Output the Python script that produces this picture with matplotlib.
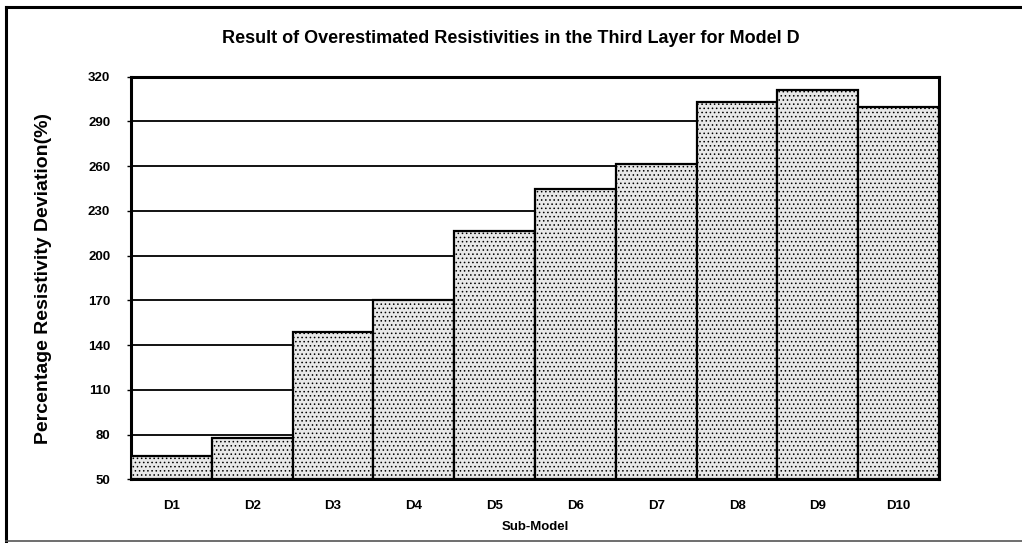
import matplotlib
matplotlib.use("Agg")
import matplotlib.pyplot as plt
from matplotlib.lines import Line2D

# values
sub_models = ["D1", "D2", "D3", "D4", "D5", "D6", "D7", "D8", "D9", "D10"]
deviation = [66, 78, 149, 170, 216.5, 244.5, 261.5, 303, 311, 300]
y_ticks = [50, 80, 110, 140, 170, 200, 230, 260, 290, 320]

plt.rcParams["font.family"] = ["Liberation Sans", "DejaVu Sans"]
plt.rcParams["font.weight"] = "bold"
plt.rcParams["hatch.color"] = "#333333"
plt.rcParams["hatch.linewidth"] = 0.6

fig = plt.figure(figsize=(10.22, 5.43), dpi=100)
ax = fig.add_axes([0.1282, 0.117, 0.7906, 0.7418])

x = range(len(sub_models))
ax.bar(x, [d - 50 for d in deviation], bottom=50, width=1.0,
       color="#e8e8e8", edgecolor="black", linewidth=1.6, hatch="....",
       zorder=3)

ax.set_xlim(-0.5, len(sub_models) - 0.5)
ax.set_ylim(50, 320)
ax.set_yticks(y_ticks)
ax.set_xticks(list(x))
ax.set_xticklabels(sub_models)
ax.yaxis.grid(True, color="black", linewidth=1.3, zorder=0)
ax.set_axisbelow(True)

ax.tick_params(axis="x", length=0, pad=15, labelsize=9.5)
ax.tick_params(axis="y", length=3, width=1, pad=12, labelsize=9.5)
for s in ax.spines.values():
    s.set_linewidth(2.2)

ax.set_xlabel("Sub-Model", fontsize=9.5, fontweight="bold", labelpad=6)
ax.set_ylabel("Percentage Resistivity Deviation(%)", fontsize=14,
              fontweight="bold", labelpad=26)
fig.text(0.5, 0.93, "Result of Overestimated Resistivities in the Third Layer for Model D",
         ha="center", va="center", fontsize=13, fontweight="bold")

# outer frame (left, top, bottom) like the scanned original
fig.add_artist(Line2D([0.006, 0.006], [0.004, 0.988], color="black", lw=2.2,
                      transform=fig.transFigure))
fig.add_artist(Line2D([0.006, 1.0], [0.988, 0.988], color="black", lw=2.2,
                      transform=fig.transFigure))
fig.add_artist(Line2D([0.006, 1.0], [0.004, 0.004], color="#555555", lw=1.2,
                      transform=fig.transFigure))

fig.savefig("out.png", dpi=100)
